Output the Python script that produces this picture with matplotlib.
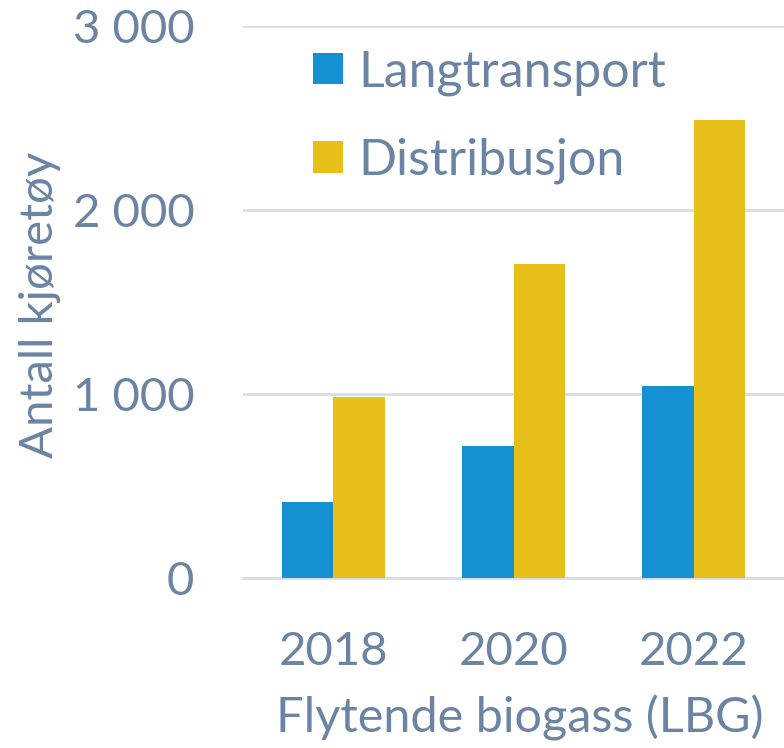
import matplotlib
matplotlib.use("Agg")
import matplotlib.pyplot as plt
import numpy as np

years = ["2018", "2020", "2022"]
langtransport = [413, 717, 1043]
distribusjon = [984, 1707, 2489]

BLUE = "#1591D3"
YELLOW = "#E6C018"
TEXT = "#6B84A3"
GRID = "#D9DDE3"

plt.rcParams["font.family"] = ["Lato", "DejaVu Sans"]

W, H = 784, 748
fig = plt.figure(figsize=(W / 100, H / 100), dpi=100)
ax = fig.add_axes([243 / W, (H - 578) / H, (W - 243) / W, (578 - 26) / H])

x = np.arange(len(years))
bw = 0.285
ax.bar(x - bw / 2, langtransport, bw, color=BLUE, label="Langtransport", zorder=3)
ax.bar(x + bw / 2, distribusjon, bw, color=YELLOW, label="Distribusjon", zorder=3)

ax.set_xlim(-0.5, 2.5)
ax.set_ylim(0, 3000)
ax.set_yticks([0, 1000, 2000, 3000])
ax.set_yticklabels(["0", "1 000", "2 000", "3 000"])
ax.set_xticks(x)
ax.set_xticklabels(years)
ax.tick_params(axis="both", length=0, labelsize=34, colors=TEXT)
ax.tick_params(axis="y", pad=35)
ax.tick_params(axis="x", pad=38)
ax.grid(axis="y", color=GRID, linewidth=2, zorder=0)
for s in ["top", "right", "left"]:
    ax.spines[s].set_visible(False)
ax.spines["bottom"].set_color(GRID)
ax.spines["bottom"].set_linewidth(2)

fig.text(40 / W, 1 - 305 / H, "Antall kjøretøy", rotation=90, ha="center", va="center",
         fontsize=34, color=TEXT)
fig.text(520 / W, 1 - 718 / H, "Flytende biogass (LBG)", ha="center", va="center",
         fontsize=35, color=TEXT)

leg = ax.legend(loc="upper left", bbox_to_anchor=(313 / W, 1 - 49 / H), bbox_transform=fig.transFigure,
                frameon=False, fontsize=36, handlelength=0.6, handleheight=0.6,
                handletextpad=0.3, labelspacing=0.84, borderpad=0, borderaxespad=0)
for t in leg.get_texts():
    t.set_color(TEXT)

fig.savefig("out.png", dpi=100)
